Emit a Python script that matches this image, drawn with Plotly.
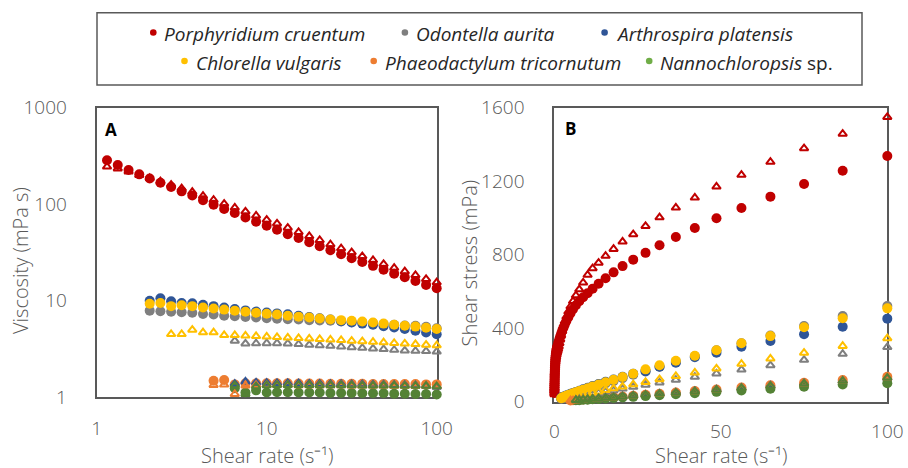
import plotly.graph_objects as go

W, H = 908, 468

# Shear-rate grid (s^-1), 16 points per decade
RATE = [1.15, 1.33, 1.54, 1.78, 2.05, 2.37, 2.74, 3.16, 3.65, 4.22, 4.87, 5.62,
        6.49, 7.50, 8.66, 10.0, 11.5, 13.3, 15.4, 17.8, 20.5, 23.7, 27.4, 31.6,
        36.5, 42.2, 48.7, 56.2, 64.9, 75.0, 86.6, 100.0]
# Low-rate part of the Porphyridium ramp (only visible on the linear axis)
LOW_RATE = [0.0316, 0.0365, 0.0422, 0.0487, 0.0562, 0.0649, 0.0750, 0.0866,
            0.100, 0.115, 0.133, 0.154, 0.178, 0.205, 0.237, 0.274, 0.316,
            0.365, 0.422, 0.487, 0.562, 0.649, 0.750, 0.866, 1.00]

# ---- Viscosity (mPa s); _1 = filled circles, _2 = open triangles ----
por_visc_1 = [285, 255, 226, 204, 185, 167, 151, 136, 123, 110, 99, 89.5, 81, 73, 66, 60,
              54.3, 49, 44.6, 40.5, 36.8, 33.4, 30.3, 27.6, 25.2, 23.0, 21.0, 19.1, 17.5, 16.0, 14.6, 13.5]
por_visc_2 = [245, 234, 218, 200, 186, 172, 159, 146, 134, 122, 111, 101, 92, 84, 76, 69,
              63, 57, 51.5, 46.7, 42.5, 38.4, 34.9, 31.8, 28.9, 26.3, 24.0, 21.9, 20.1, 18.4, 16.8, 15.5]
odo_visc_1 = [None, None, None, None, 7.9, 7.8, 7.7, 7.6, 7.5, 7.3, 7.2, 7.0, 6.9, 6.8, 6.7, 6.6,
              6.5, 6.45, 6.4, 6.3, 6.25, 6.2, 6.1, 6.0, 5.95, 5.85, 5.75, 5.65, 5.55, 5.5, 5.38, 5.2]
odo_visc_2 = [None] * 12 + [3.85, 3.6, 3.62, 3.63, 3.63, 3.6, 3.55, 3.5, 3.45, 3.4, 3.35, 3.3,
                            3.25, 3.2, 3.15, 3.1, 3.05, 3.02, 3.0, 2.97]
art_visc_1 = [None, None, None, None, 10.0, 10.6, 9.9, 9.5, 9.4, 9.1, 8.8, 8.5, 8.2, 7.95, 7.75, 7.55,
              7.4, 7.25, 7.0, 6.8, 6.6, 6.4, 6.15, 5.95, 5.8, 5.65, 5.45, 5.3, 5.1, 4.9, 4.7, 4.5]
art_visc_2 = [None] * 12 + [1.38, 1.45, 1.42, 1.41, 1.40, 1.40, 1.39, 1.38, 1.38, 1.37, 1.37, 1.36,
                            1.36, 1.35, 1.35, 1.34, 1.34, 1.33, 1.31, 1.28]
chl_visc_1 = [None, None, None, None, 9.3, 9.5, 8.8, 9.0, 8.8, 8.5, 8.3, 8.1, 7.9, 7.7, 7.5, 7.35,
              7.2, 7.0, 6.85, 6.7, 6.55, 6.4, 6.3, 6.2, 6.1, 5.95, 5.8, 5.65, 5.5, 5.4, 5.25, 5.1]
chl_visc_2 = [None] * 6 + [4.5, 4.5, 5.0, 4.7, 4.7, 4.4, 4.4, 4.35, 4.3, 4.25, 4.2, 4.15, 4.1, 4.05,
                           4.0, 3.95, 3.9, 3.85, 3.8, 3.75, 3.7, 3.65, 3.6, 3.55, 3.5, 3.45]
pha_visc_1 = [None] * 10 + [1.48, 1.51, 1.36, 1.40, 1.40, 1.40, 1.40, 1.40, 1.39, 1.39, 1.39, 1.38,
                            1.38, 1.38, 1.38, 1.37, 1.37, 1.37, 1.37, 1.37, 1.36, 1.36]
pha_visc_2 = [None] * 10 + [1.34, 1.35, 1.08, 1.32, 1.34, 1.34, 1.34, 1.34, 1.33, 1.33, 1.33, 1.33,
                            1.33, 1.32, 1.32, 1.32, 1.32, 1.31, 1.31, 1.31, 1.31, 1.30]
nan_visc_1 = [None] * 12 + [1.24, 1.12, 1.18, 1.12, 1.13, 1.13, 1.12, 1.12, 1.12, 1.11, 1.11, 1.11,
                            1.10, 1.10, 1.10, 1.09, 1.09, 1.08, 1.08, 1.07]
nan_visc_2 = [None] * 12 + [1.33, 1.08, 1.30, 1.33, 1.34, 1.34, 1.34, 1.34, 1.33, 1.33, 1.33, 1.33,
                            1.32, 1.32, 1.32, 1.32, 1.31, 1.31, 1.31, 1.30]

# ---- Shear stress (mPa) ----
por_low_1 = [48, 58, 68, 79, 90, 101, 113, 125, 137, 149, 161, 173, 185, 197, 209, 220, 231,
             242, 252, 262, 272, 281, 290, 298, 306]
por_low_2 = [40, 48, 57, 66, 75, 85, 95, 105, 115, 126, 137, 148, 159, 170, 181, 192, 203,
             214, 224, 234, 244, 253, 262, 270, 278]
por_stress_1 = [316, 328, 341, 355, 370, 386, 403, 421, 440, 460, 481, 503, 525, 547, 568, 590,
                615, 642, 672, 704, 738, 773, 810, 851, 896, 945, 998, 1054, 1116, 1185, 1257, 1337]
por_stress_2 = [288, 300, 318, 338, 360, 384, 410, 436, 463, 490, 518, 547, 578, 611, 648, 690,
                726, 756, 793, 831, 871, 911, 956, 1003, 1056, 1110, 1170, 1234, 1305, 1379, 1458, 1549]
odo_stress_1 = [None] * 4 + [16, 18.5, 21, 24, 27.4, 30.8, 35.1, 39.4, 44.8, 51, 58, 66, 75, 86,
                             98.6, 112, 128, 147, 167, 190, 217, 247, 280, 318, 360, 412, 466, 521]
odo_stress_2 = [None] * 12 + [25, 27, 31.3, 36.3, 41.9, 48, 54.7, 62.2, 70.9, 80.6, 91.7, 104,
                              119, 135, 153, 174, 198, 227, 260, 297]
art_stress_1 = [None] * 4 + [20.5, 25.1, 27.1, 30, 34.3, 38.4, 42.9, 47.8, 53.3, 59.6, 67.1, 75.5,
                             85.5, 96.7, 108, 121, 136, 152, 165, 190, 212, 242, 267, 299, 330,
                             367, 408, 452]
art_stress_2 = [None] * 12 + [9.0, 10.9, 12.3, 14.1, 16.2, 18.7, 21.4, 24.5, 28.3, 32.5, 37.5, 43,
                              49.7, 56.9, 65.7, 75.3, 87, 99.7, 113, 128]
chl_stress_1 = [None] * 4 + [19.1, 22.5, 24.1, 28.5, 32.1, 35.8, 40.4, 45.5, 51.3, 57.7, 65, 73.5,
                             83.2, 93.4, 105.5, 119, 134.5, 151.7, 176, 198, 223, 250, 280, 318,
                             357, 405, 454, 508]
chl_stress_2 = [None] * 6 + [12.3, 14.2, 18.3, 19.8, 22.9, 24.7, 28.6, 32.6, 37.2, 42.5, 48.5,
                             55.4, 63.1, 72, 82.2, 93.7, 106.8, 121.7, 138.8, 158.1, 180.2, 205.2,
                             233.8, 266.2, 303.1, 345]
pha_stress_1 = [None] * 10 + [7.2, 8.5, 8.8, 10.5, 12.1, 14, 16.2, 18.7, 21.4, 24.7, 28.6, 32.7,
                              37.8, 43.6, 50.4, 57.8, 66.7, 77, 89, 102.7, 117.8, 136]
pha_stress_2 = [None] * 10 + [6.5, 7.6, 7.0, 9.9, 11.6, 13.4, 15.5, 17.9, 20.5, 23.6, 27.3, 31.5,
                              36.4, 41.7, 48.2, 55.7, 64.3, 73.7, 85.1, 98.2, 113.4, 130]
nan_stress_1 = [None] * 12 + [8.1, 8.4, 10.2, 11.2, 13.1, 15.1, 17.2, 19.9, 23, 26.3, 30.4, 35.1,
                              40.2, 46.4, 53.6, 61.3, 70.8, 81, 93.5, 100]
nan_stress_2 = [None] * 12 + [8.6, 8.1, 11.3, 13.3, 15.5, 17.9, 20.6, 23.8, 27.3, 31.5, 36.4, 42.1,
                              48.2, 55.7, 64.3, 74.2, 85.1, 98.2, 113.4, 130]

LEGEND_LABELS = ["<i>Porphyridium cruentum</i>", "<i>Odontella aurita</i>",
                 "<i>Arthrospira platensis</i>", "<i>Chlorella vulgaris</i>",
                 "<i>Phaeodactylum tricornutum</i>", "<i>Nannochloropsis</i> sp."]

RED, GRAY, BLUE = "#C00000", "#7F7F7F", "#2F5597"
YELLOW, ORANGE, GREEN = "#FFC000", "#ED7D31", "#548235"
LEGEND_COLORS = [RED, GRAY, BLUE, YELLOW, ORANGE, "#70AD47"]

TXT = "#595959"
FONT = "Open Sans"


def px_x(x):
    return x / W


def px_y(y):
    return 1 - y / H


fig = go.Figure()


def add(x, y, color, filled, xa, ya):
    if filled:
        marker = dict(symbol="circle", size=10, color=color, line=dict(width=0))
    else:
        marker = dict(symbol="triangle-up-open", size=7.5, color=color,
                      line=dict(width=2, color=color))
    fig.add_trace(go.Scatter(x=x, y=y, mode="markers", marker=marker, cliponaxis=False,
                             xaxis=xa, yaxis=ya, showlegend=False, hoverinfo="x+y"))


# drawing order (back to front)
visc_layers = [
    (por_visc_1, RED, True), (por_visc_2, RED, False),
    (odo_visc_1, GRAY, True), (art_visc_1, BLUE, True), (chl_visc_1, YELLOW, True),
    (pha_visc_1, ORANGE, True), (nan_visc_1, GREEN, True),
    (odo_visc_2, GRAY, False), (chl_visc_2, YELLOW, False), (art_visc_2, BLUE, False),
    (pha_visc_2, ORANGE, False), (nan_visc_2, GREEN, False),
]
for vals, col, filled in visc_layers:
    add(RATE, vals, col, filled, "x", "y")

stress_layers = [
    (LOW_RATE + RATE, por_low_1 + por_stress_1, RED, True),
    (LOW_RATE + RATE, por_low_2 + por_stress_2, RED, False),
    (RATE, odo_stress_1, GRAY, True), (RATE, art_stress_1, BLUE, True),
    (RATE, chl_stress_1, YELLOW, True), (RATE, pha_stress_1, ORANGE, True),
    (RATE, nan_stress_1, GREEN, True),
    (RATE, odo_stress_2, GRAY, False), (RATE, chl_stress_2, YELLOW, False),
    (RATE, art_stress_2, BLUE, False), (RATE, pha_stress_2, ORANGE, False),
    (RATE, nan_stress_2, GREEN, False),
]
for xs, vals, col, filled in stress_layers:
    add(xs, vals, col, filled, "x2", "y2")

tickfont = dict(family=FONT, size=19, color=TXT, weight=300)
frame = dict(showgrid=False, zeroline=False, showline=True, mirror=True,
             linecolor="#595959", linewidth=2, ticks="", tickfont=tickfont,
             layer="below traces", automargin=False)
yframe = dict(frame, ticklabelstandoff=24)

fig.update_layout(
    width=W, height=H, margin=dict(l=0, r=0, t=0, b=0, autoexpand=False),
    paper_bgcolor="white", plot_bgcolor="white", showlegend=False,
    xaxis=dict(frame, ticklabelstandoff=13, domain=[px_x(96.7), px_x(436.7)], type="log",
               range=[0, 2], tickvals=[1, 10, 100], ticktext=["1", "10", "100"], anchor="y"),
    yaxis=dict(yframe, domain=[px_y(397.3), px_y(107.7)], type="log", range=[0, 3],
               tickvals=[1, 10, 100, 1000], ticktext=["1", "10", "100", "1000"], anchor="x"),
    xaxis2=dict(frame, ticklabelstandoff=11, domain=[px_x(554.3), px_x(887.3)],
                range=[0, 100], tickvals=[0, 50, 100], anchor="y2"),
    yaxis2=dict(yframe, domain=[px_y(401.7), px_y(107.7)], range=[0, 1600],
                tickvals=[0, 400, 800, 1200, 1600], anchor="x2"),
)

title_font = dict(family=FONT, size=20, color=TXT, weight=300)
RATE_TITLE = "Shear rate (s\u207b\u00b9)"
ann = [
    dict(text=RATE_TITLE, x=px_x(266.7), y=px_y(455), xanchor="center",
         yanchor="middle", font=title_font),
    dict(text=RATE_TITLE, x=px_x(720.8), y=px_y(455), xanchor="center",
         yanchor="middle", font=title_font),
    dict(text="Viscosity (mPa s)", x=px_x(20), y=px_y(261), xanchor="center",
         yanchor="middle", textangle=-90, font=title_font),
    dict(text="Shear stress (mPa)", x=px_x(468.5), y=px_y(263), xanchor="center",
         yanchor="middle", textangle=-90, font=title_font),
    dict(text="<b>A</b>", x=px_x(103), y=px_y(129), xanchor="left", yanchor="middle",
         font=dict(family=FONT, size=17, color="black")),
    dict(text="<b>B</b>", x=px_x(563), y=px_y(128), xanchor="left", yanchor="middle",
         font=dict(family=FONT, size=17, color="black")),
]

# legend: two rows inside a framed box
legend_dot_x = [153.3, 404.9, 604.6, 184.5, 373.7, 649.2]
legend_row_y = [32.5, 61.0]
shapes = [dict(type="rect", xref="paper", yref="paper", x0=px_x(97), x1=px_x(862),
               y0=px_y(85), y1=px_y(12.7), line=dict(color="#595959", width=1.5))]
for i, (lab, col) in enumerate(zip(LEGEND_LABELS, LEGEND_COLORS)):
    cx = legend_dot_x[i]
    cy = legend_row_y[i // 3]
    r = 3.3
    shapes.append(dict(type="circle", xref="paper", yref="paper",
                       x0=px_x(cx - r), x1=px_x(cx + r), y0=px_y(cy + r), y1=px_y(cy - r),
                       fillcolor=col, line=dict(width=0)))
    ann.append(dict(text=lab, x=px_x(cx + 9), y=px_y(cy + 2), xanchor="left",
                    yanchor="middle", font=dict(family=FONT, size=19, color="#262626")))

for a in ann:
    a.update(xref="paper", yref="paper", showarrow=False)
fig.update_layout(annotations=ann, shapes=shapes)

fig.write_html("out.html")
